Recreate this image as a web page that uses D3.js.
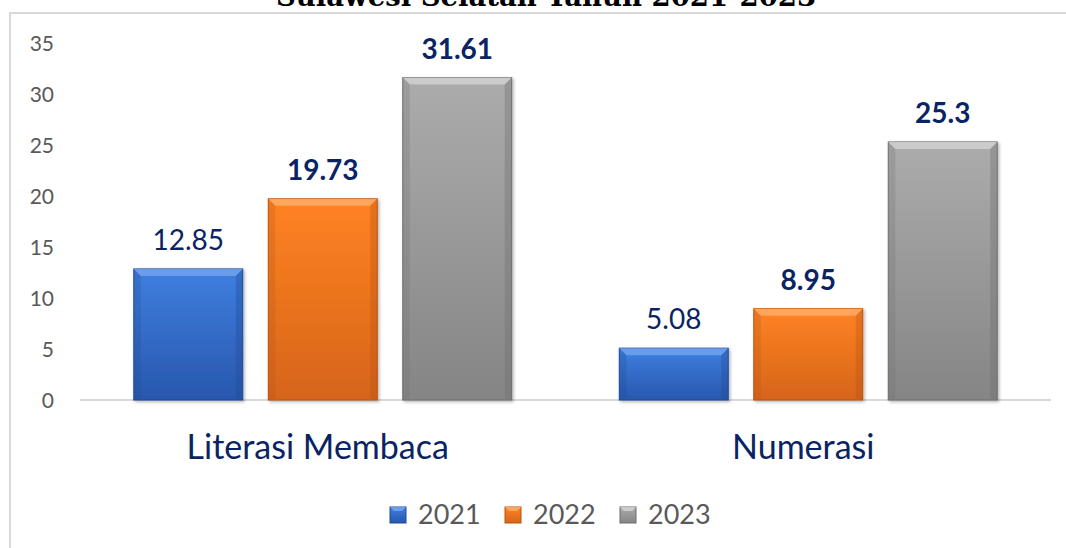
<!DOCTYPE html>
<html>

<head>
    <meta charset="utf-8">
    <title>Literasi dan Numerasi 2021-2023</title>
    <script src="https://d3js.org/d3.v7.min.js"></script>
    <style>
        body {
            margin: 0;
            background: #fff;
        }

        .axis text {
            font-family: Lato, "Open Sans", sans-serif;
            font-size: 21px;
            fill: #595959;
        }
    </style>
</head>

<body>
    <svg width="1066" height="548"></svg>

    <script>
        // data
        const categories = ["Literasi Membaca", "Numerasi"];
        const years = ["2021", "2022", "2023"];
        const values2021 = [12.85, 5.08];
        const values2022 = [19.73, 8.95];
        const values2023 = [31.61, 25.3];
        const yTicks = [0, 5, 10, 15, 20, 25, 30, 35];
        const boldLabel = [[false, true, true], [false, true, true]];

        const seriesValues = [values2021, values2022, values2023];
        const colors = [
            { top: "#3f7fe0", bottom: "#2857ad", edge: "#1f4a94", light: "#78a8f0" },
            { top: "#ff8322", bottom: "#d6641a", edge: "#b85312", light: "#ffb070" },
            { top: "#acacac", bottom: "#858585", edge: "#6e6e6e", light: "#d6d6d6" }
        ];
        const navy = "#0a2463";

        const svg = d3.select("svg");
        const defs = svg.append("defs");

        colors.forEach((c, i) => {
            const g = defs.append("linearGradient")
                .attr("id", "grad" + i)
                .attr("x1", 0).attr("y1", 0).attr("x2", 0).attr("y2", 1);
            g.append("stop").attr("offset", "0%").attr("stop-color", c.top);
            g.append("stop").attr("offset", "100%").attr("stop-color", c.bottom);
        });

        const shadow = defs.append("filter").attr("id", "shadow")
            .attr("x", "-10%").attr("y", "-10%").attr("width", "130%").attr("height", "130%");
        shadow.append("feDropShadow")
            .attr("dx", 1.5).attr("dy", 1.5).attr("stdDeviation", 1.5)
            .attr("flood-color", "#000").attr("flood-opacity", 0.3);

        // frame of the chart area
        svg.append("rect")
            .attr("x", 10).attr("y", 13)
            .attr("width", 1080).attr("height", 560)
            .attr("fill", "none")
            .attr("stroke", "#d9d9d9")
            .attr("stroke-width", 2);

        // title, mostly cut off at the top (as in the source image)
        svg.append("text")
            .attr("x", 546).attr("y", 6)
            .attr("text-anchor", "middle")
            .style("font-family", "'DejaVu Serif', serif")
            .style("font-weight", "bold")
            .style("font-size", "27.5px")
            .attr("fill", "#000")
            .text("Sulawesi Selatan Tahun 2021-2023");

        const plotLeft = 80, plotRight = 1051, plotBottom = 400;

        const y = d3.scaleLinear()
            .domain([0, 35])
            .range([plotBottom, 43]);

        const x0 = d3.scaleBand()
            .domain(categories)
            .range([plotLeft, plotRight])
            .padding(0);

        const x1 = d3.scaleBand()
            .domain(years)
            .range([0, x0.bandwidth()])
            .paddingInner(0.19)
            .paddingOuter(0.4);

        // y axis labels only
        const yAxis = svg.append("g")
            .attr("class", "axis")
            .attr("transform", "translate(54,0)")
            .call(d3.axisLeft(y).tickValues(yTicks).tickSize(0).tickPadding(0));
        yAxis.select(".domain").remove();
        yAxis.selectAll("text").attr("dy", "0.35em");

        // baseline
        svg.append("line")
            .attr("x1", plotLeft).attr("x2", plotRight)
            .attr("y1", y(0)).attr("y2", y(0))
            .attr("stroke", "#d9d9d9")
            .attr("stroke-width", 2);

        const rows = [];
        categories.forEach((cat, ci) => {
            years.forEach((yr, si) => {
                rows.push({ cat: cat, year: yr, si: si, value: seriesValues[si][ci], bold: boldLabel[ci][si] });
            });
        });

        const bars = svg.append("g").selectAll("g.bar")
            .data(rows)
            .join("g")
            .attr("class", "bar")
            .attr("transform", d => "translate(" + (x0(d.cat) + x1(d.year)) + ",0)");

        const bw = x1.bandwidth();
        const bev = 7;

        bars.append("rect")
            .attr("x", 0)
            .attr("y", d => y(d.value))
            .attr("width", bw)
            .attr("height", d => y(0) - y(d.value))
            .attr("fill", d => "url(#grad" + d.si + ")")
            .attr("stroke", d => colors[d.si].edge)
            .attr("stroke-width", 1)
            .attr("filter", "url(#shadow)");

        // bevel: light top edge
        bars.append("path")
            .attr("d", d => {
                const t = y(d.value);
                return "M0," + t + "L" + bw + "," + t + "L" + (bw - bev) + "," + (t + bev) + "L" + bev + "," + (t + bev) + "Z";
            })
            .attr("fill", d => colors[d.si].light)
            .attr("opacity", 0.75);

        // bevel: darker sides
        bars.append("path")
            .attr("d", d => {
                const t = y(d.value), b = y(0);
                return "M0," + t + "L" + bev + "," + (t + bev) + "L" + bev + "," + (b - 2) + "L0," + b + "Z";
            })
            .attr("fill", d => colors[d.si].edge)
            .attr("opacity", 0.25);
        bars.append("path")
            .attr("d", d => {
                const t = y(d.value), b = y(0);
                return "M" + bw + "," + t + "L" + (bw - bev) + "," + (t + bev) + "L" + (bw - bev) + "," + (b - 2) + "L" + bw + "," + b + "Z";
            })
            .attr("fill", d => colors[d.si].edge)
            .attr("opacity", 0.35);

        // value labels
        bars.append("text")
            .attr("x", bw / 2)
            .attr("y", d => y(d.value) - 19)
            .attr("text-anchor", "middle")
            .style("font-family", "Lato, 'Open Sans', sans-serif")
            .style("font-size", "28px")
            .style("font-weight", d => d.bold ? "bold" : "normal")
            .attr("fill", navy)
            .text(d => d.value);

        // category labels
        svg.append("g").selectAll("text")
            .data(categories)
            .join("text")
            .attr("x", d => x0(d) + x0.bandwidth() / 2 - 5)
            .attr("y", 459)
            .attr("text-anchor", "middle")
            .style("font-family", "Lato, 'Open Sans', sans-serif")
            .style("font-size", "34px")
            .attr("fill", navy)
            .text(d => d);

        // legend
        const legend = svg.append("g").selectAll("g")
            .data(years)
            .join("g")
            .attr("transform", (d, i) => "translate(" + (390 + i * 115) + ",507)");

        legend.append("rect")
            .attr("width", 16).attr("height", 16)
            .attr("fill", (d, i) => "url(#grad" + i + ")")
            .attr("stroke", (d, i) => colors[i].edge)
            .attr("stroke-width", 1);
        legend.append("path")
            .attr("d", "M0,0L16,0L12,4L4,4Z")
            .attr("fill", (d, i) => colors[i].light)
            .attr("opacity", 0.8);

        legend.append("text")
            .attr("x", 28)
            .attr("y", 17)
            .style("font-family", "Lato, 'Open Sans', sans-serif")
            .style("font-size", "27px")
            .attr("fill", "#595959")
            .text(d => d);
    </script>
</body>

</html>
